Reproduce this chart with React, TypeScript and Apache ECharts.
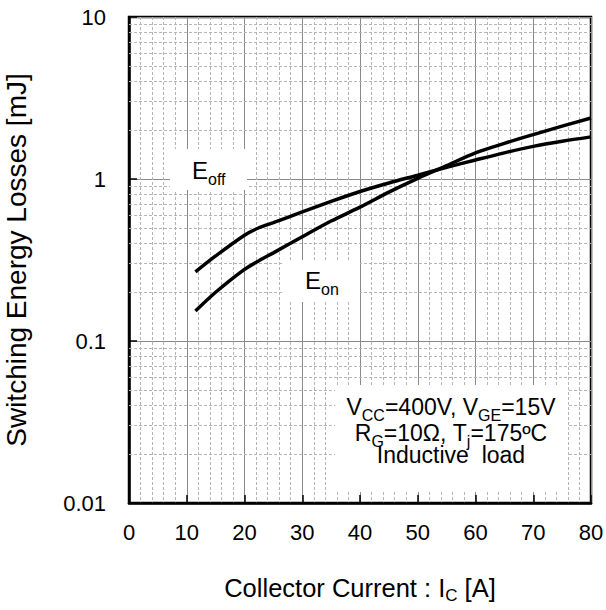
import React, { useEffect, useRef } from "react";
import * as echarts from "echarts";

// Collector current [A]
const current = [11.5, 15, 20, 22.5, 25, 30, 35, 40, 45, 50, 55, 60, 65, 70, 75, 80];
// Turn-off energy [mJ]
const eoff = [0.267, 0.335, 0.45, 0.5, 0.538, 0.626, 0.727, 0.837, 0.945, 1.055, 1.18, 1.31, 1.45, 1.59, 1.71, 1.82];
// Turn-on energy [mJ]
const eon = [0.153, 0.2, 0.277, 0.313, 0.35, 0.44, 0.55, 0.67, 0.83, 1.01, 1.21, 1.45, 1.66, 1.88, 2.12, 2.38];

const yTickLabels = ["0.01", "0.1", "1", "10"];
const xTickLabels = ["0", "10", "20", "30", "40", "50", "60", "70", "80"];
const decades = [0.01, 0.1, 1];
const minorMultipliers = [2, 3, 4, 5, 6, 7, 8, 9];

const FONT = "'Liberation Sans', Arial, sans-serif";

export default function App() {
  const ref = useRef<HTMLDivElement>(null);
  useEffect(() => {
    if (!ref.current) return;
    const chart = echarts.init(ref.current, undefined, { renderer: "svg" });
    const yMinor: number[] = [];
    decades.forEach((d) => minorMultipliers.forEach((m) => yMinor.push(+(d * m).toPrecision(3))));
    const subPad = 18;
    chart.setOption({
      animation: false,
      textStyle: { fontFamily: FONT, color: "#000" },
      grid: {
        left: 129,
        right: 15,
        top: 17,
        bottom: 107,
        show: true,
        borderColor: "#000",
        borderWidth: 2.5,
        outerBoundsMode: "none",
      },
      xAxis: {
        type: "value",
        min: 0,
        max: 80,
        interval: 10,
        name: "Collector Current : I{s|C} [A]",
        nameLocation: "middle",
        nameGap: 69,
        nameTextStyle: {
          fontSize: 25.5,
          fontFamily: FONT,
          color: "#000",
          rich: { s: { fontSize: 17, fontFamily: FONT, color: "#000", padding: [15, 0, 0, 0] } },
        },
        axisLine: { show: true, lineStyle: { color: "#000", width: 2.5 } },
        axisTick: { show: true, inside: true, length: 8, lineStyle: { color: "#000", width: 1.5 } },
        axisLabel: {
          fontSize: 22,
          color: "#000",
          margin: 18,
          formatter: (_v: number, i: number) => xTickLabels[i],
        },
        splitLine: { show: true, lineStyle: { color: "#8a8a8a", width: 1 } },
        minorTick: { show: false, splitNumber: 5 },
        minorSplitLine: { show: true, lineStyle: { color: "#b5b5b5", width: 1, type: [3, 2] } },
      },
      yAxis: {
        type: "log",
        logBase: 10,
        min: 0.01,
        max: 10,
        name: "Switching Energy Losses [mJ]",
        nameLocation: "middle",
        nameGap: 99,
        nameRotate: 90,
        nameTextStyle: { fontSize: 28, fontFamily: FONT, color: "#000" },
        axisLine: { show: true, lineStyle: { color: "#000", width: 2.5 } },
        axisTick: { show: true, inside: true, length: 8, lineStyle: { color: "#000", width: 1.5 } },
        axisLabel: {
          fontSize: 22,
          color: "#000",
          margin: 23,
          formatter: (_v: number, i: number) => yTickLabels[i],
        },
        splitLine: { show: true, lineStyle: { color: "#8a8a8a", width: 1 } },
      },
      series: [
        {
          name: "Eoff",
          type: "line",
          data: current.map((x, i) => [x, eoff[i]]),
          smooth: 0.3,
          symbol: "none",
          z: 5,
          lineStyle: { color: "#000", width: 3.5 },
          markLine: {
            silent: true,
            z: 1,
            symbol: ["none", "none"],
            label: { show: false },
            lineStyle: { color: "#b5b5b5", width: 1, type: [3, 2] },
            data: yMinor.map((v) => ({ yAxis: v })),
          },
        },
        {
          name: "Eon",
          type: "line",
          data: current.map((x, i) => [x, eon[i]]),
          smooth: 0.3,
          symbol: "none",
          z: 5,
          lineStyle: { color: "#000", width: 3.5 },
        },
      ],
      graphic: [
        { type: "rect", z: 3, shape: { x: 170, y: 149, width: 77, height: 41 }, style: { fill: "#fff" } },
        { type: "rect", z: 3, shape: { x: 283, y: 260, width: 77, height: 42 }, style: { fill: "#fff" } },
        { type: "rect", z: 3, shape: { x: 335, y: 385, width: 233, height: 107 }, style: { fill: "#fff" } },
        {
          type: "text",
          z: 4,
          x: 192,
          y: 170,
          style: {
            text: "{m|E}{s|off}",
            align: "left",
            verticalAlign: "middle",
            rich: {
              m: { fontSize: 24, fontFamily: FONT, fill: "#000" },
              s: { fontSize: 16, fontFamily: FONT, fill: "#000", padding: [subPad, 0, 0, 0] },
            },
          },
        },
        {
          type: "text",
          z: 4,
          x: 305,
          y: 280,
          style: {
            text: "{m|E}{s|on}",
            align: "left",
            verticalAlign: "middle",
            rich: {
              m: { fontSize: 24, fontFamily: FONT, fill: "#000" },
              s: { fontSize: 16, fontFamily: FONT, fill: "#000", padding: [subPad, 0, 0, 0] },
            },
          },
        },
        ...[
          { y: 407, t: "{m|V}{s|CC}{m|=400V, V}{s|GE}{m|=15V}" },
          { y: 433, t: "{m|R}{s|G}{m|=10Ω, T}{s|j}{m|=175ºC}" },
          { y: 455, t: "{m|Inductive  load}" },
        ].map((l) => ({
          type: "text",
          z: 4,
          x: 451,
          y: l.y,
          style: {
            text: l.t,
            align: "center",
            verticalAlign: "middle",
            rich: {
              m: { fontSize: 23, fontFamily: FONT, fill: "#000" },
              s: { fontSize: 16, fontFamily: FONT, fill: "#000", padding: [17, 0, 0, 0] },
            },
          },
        })),
      ],
    });
    return () => chart.dispose();
  }, []);
  return (
    <div
      ref={ref}
      style={{ position: "fixed", left: 0, top: 0, width: 606, height: 610, background: "#fff" }}
    />
  );
}
